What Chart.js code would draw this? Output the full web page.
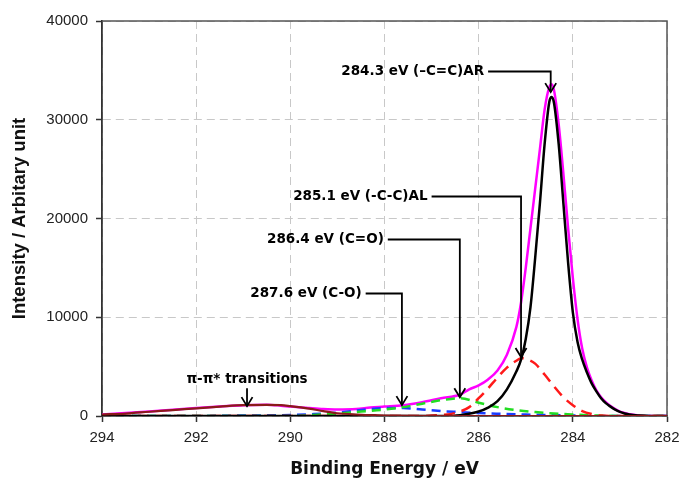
<!DOCTYPE html>
<html><head><meta charset="utf-8">
<script src="https://cdn.jsdelivr.net/npm/chart.js@4.4.0/dist/chart.umd.min.js"></script>
<style>html,body{margin:0;padding:0;background:#fff;}canvas{display:block;}</style>
</head><body>
<canvas id="c" width="684" height="481"></canvas>
<script>
// ---- data (binding energy eV, intensity) ----
const xTicks = [294, 292, 290, 288, 286, 284, 282];
const yTicks = [0, 10000, 20000, 30000, 40000];

const envelope = [[294,150],[293,450],[292,800],[291.5,950],[291,1100],[290.5,1150],[290.2,1050],[290,950],[289.6,800],[289.3,700],[289,650],[288.6,700],[288.3,850],[288,950],[287.6,1100],[287.2,1400],[286.8,1800],[286.4,2150],[286.2,2700],[286,3100],[285.8,3700],[285.6,4600],[285.4,6200],[285.2,9000],[285.1,11500],[285,15000],[284.9,19000],[284.8,23000],[284.7,27000],[284.6,31000],[284.5,33300],[284.45,33600],[284.4,33000],[284.3,29500],[284.2,24500],[284.1,19000],[284,14000],[283.9,9800],[283.8,6800],[283.7,4900],[283.6,3600],[283.5,2600],[283.4,1900],[283.3,1400],[283.2,1000],[283.1,700],[283,450],[282.9,300],[282.8,180],[282.6,60],[282.4,0],[282,0]];
const peakCC_AR = [[294,0],[286.6,0],[286.3,150],[286,450],[285.8,850],[285.6,1500],[285.4,2700],[285.2,4500],[285.1,5700],[285,7800],[284.9,11000],[284.8,16000],[284.7,21500],[284.6,27500],[284.5,31800],[284.45,32300],[284.4,31700],[284.3,27500],[284.2,21500],[284.1,15500],[284,10500],[283.9,7500],[283.8,5700],[283.7,4400],[283.6,3300],[283.5,2500],[283.4,1800],[283.3,1300],[283.2,950],[283.1,650],[283,420],[282.9,260],[282.8,150],[282.6,50],[282.4,0],[282,0]];
const peakCC_AL = [[294,0],[287.2,0],[286.8,100],[286.5,300],[286.2,900],[286,1800],[285.8,2800],[285.6,3900],[285.4,4900],[285.2,5600],[285.1,5850],[285,5800],[284.8,5300],[284.6,4200],[284.4,3000],[284.2,1900],[284,1100],[283.8,500],[283.6,200],[283.4,50],[283.2,0],[282,0]];
const peakCO_double = [[294,0],[290,0],[289.5,100],[289,250],[288.5,450],[288,650],[287.6,900],[287.2,1250],[286.8,1600],[286.4,1800],[286,1350],[285.6,900],[285.2,600],[284.8,400],[284.4,250],[284,150],[283.5,50],[283,0],[282,0]];
const peakCO_single = [[294,0],[292,0],[291,50],[290,100],[289.5,200],[289,350],[288.5,600],[288,800],[287.6,800],[287.2,650],[286.8,500],[286.4,400],[286,300],[285.5,220],[285,150],[284.5,100],[284,50],[283.5,0],[282,0]];
const piPiStar = [[294,150],[293.5,250],[293,430],[292.5,600],[292,780],[291.5,950],[291,1100],[290.5,1120],[290.2,1100],[290,1000],[289.6,750],[289.3,500],[289,280],[288.6,150],[288.2,80],[288,50],[287,0],[282,0]];
const baseline = [[294,0],[282,0]];

// callouts: text, label energy/intensity (where the leader starts), peak energy, arrow tip intensity
const calloutText  = ['284.3 eV (\u2013C=C)AR', '285.1 eV (-C-C)AL', '286.4 eV (C=O)', '287.6 eV (C-O)'];
const calloutPeakE = [284.47, 285.1, 286.4, 287.63];
const calloutTipI  = [32800, 5975, 1900, 1100];
const calloutLabel = [[285.8, 34940], [287.0, 22280], [287.93, 17920], [288.4, 12450]];
const piLabel = {text: '\u03c0-\u03c0* transitions', e: 290.92, tip: 1000};

const toXY = arr => arr.map(p => ({x: p[0], y: p[1]}));

const frame = {
  id: 'frame',
  beforeDatasetsDraw(chart) {
    const {ctx, chartArea: a} = chart;
    ctx.save();
    ctx.strokeStyle = '#555'; ctx.lineWidth = 1.5;
    ctx.beginPath(); ctx.moveTo(a.left, a.top); ctx.lineTo(a.right, a.top); ctx.lineTo(a.right, a.bottom); ctx.stroke();
    ctx.restore();
  }
};

function arrowHead(ctx, x, y) {
  ctx.beginPath();
  ctx.moveTo(x - 5.5, y - 9); ctx.lineTo(x, y); ctx.lineTo(x + 5.5, y - 9);
  ctx.stroke();
}

const callouts = {
  id: 'callouts',
  afterDatasetsDraw(chart) {
    const {ctx, scales: {x, y}} = chart;
    ctx.save();
    ctx.strokeStyle = '#000'; ctx.fillStyle = '#000'; ctx.lineWidth = 1.8;
    ctx.font = 'bold 13.5px "DejaVu Sans"';
    ctx.textAlign = 'right'; ctx.textBaseline = 'middle';
    for (let i = 0; i < calloutText.length; i++) {
      const sx = x.getPixelForValue(calloutLabel[i][0]);
      const sy = Math.round(y.getPixelForValue(calloutLabel[i][1])) + 0.5;
      const px = x.getPixelForValue(calloutPeakE[i]);
      const ty = y.getPixelForValue(calloutTipI[i]);
      ctx.beginPath(); ctx.moveTo(sx, sy); ctx.lineTo(px, sy); ctx.lineTo(px, ty); ctx.stroke();
      arrowHead(ctx, px, ty);
      ctx.fillText(calloutText[i], sx - 4, sy);
    }
    const px = x.getPixelForValue(piLabel.e);
    const ty = y.getPixelForValue(piLabel.tip);
    ctx.textAlign = 'center';
    ctx.fillText(piLabel.text, px, ty - 27);
    ctx.beginPath(); ctx.moveTo(px, ty - 18); ctx.lineTo(px, ty); ctx.stroke();
    arrowHead(ctx, px, ty);
    ctx.restore();
  }
};

const ds = (data, color, width, dash) => ({data: toXY(data), borderColor: color, borderWidth: width, borderDash: dash || [], pointRadius: 0, fill: false, cubicInterpolationMode: 'monotone'});

new Chart(document.getElementById('c'), {
  type: 'line',
  data: {
    datasets: [
      ds(piPiStar, '#8b1a1a', 2.2),
      ds(peakCC_AR, '#000000', 2.5),
      ds(peakCC_AL, '#ff1a1a', 2.5, [11, 7]),
      ds(peakCO_double, '#22dd22', 2.5, [9, 6]),
      ds(peakCO_single, '#1a3cff', 2.5, [9, 6]),
      ds(envelope, '#ff00ff', 2.5),
      ds(baseline, '#333333', 2, [7, 6])
    ]
  },
  options: {
    responsive: false, animation: false, devicePixelRatio: 1,
    layout: {autoPadding: false, padding: {left: 0, right: 17, top: 21, bottom: 0}},
    plugins: {legend: {display: false}, tooltip: {enabled: false}},
    scales: {
      x: {
        type: 'linear', reverse: true, min: 282, max: 294,
        afterBuildTicks(s) { s.ticks = xTicks.map(v => ({value: v})); },
        afterFit(s) { s.height = 65; s.paddingLeft = 0; s.paddingRight = 0; },
        ticks: {callback: v => String(v), color: '#222', font: {family: 'Liberation Sans', size: 15}, padding: 7, maxRotation: 0},
        grid: {color: '#c8c8c8', lineWidth: 1, tickColor: '#333', tickLength: 6, tickWidth: 1.5},
        border: {dash: [8, 5], color: '#333', width: 1.8},
        title: {display: true, text: 'Binding Energy / eV', color: '#111', font: {family: 'DejaVu Sans', size: 17, weight: 'bold'}, padding: {top: 0, bottom: 1}}
      },
      y: {
        min: 0, max: 40000,
        afterBuildTicks(s) { s.ticks = yTicks.map(v => ({value: v})); },
        afterFit(s) { s.width = 102; s.paddingTop = 0; s.paddingBottom = 0; },
        ticks: {callback: v => String(v), color: '#222', font: {family: 'Liberation Sans', size: 15}, padding: 8},
        grid: {color: '#c8c8c8', lineWidth: 1, tickColor: '#333', tickLength: 6, tickWidth: 1.5},
        border: {dash: [8, 5], color: '#333', width: 1.8},
        title: {display: true, text: 'Intensity / Arbitary unit', color: '#111', font: {family: 'Liberation Sans', size: 18.5, weight: 'bold'}, padding: {top: 9, bottom: 0}}
      }
    }
  },
  plugins: [frame, callouts]
});
</script>
</body></html>
